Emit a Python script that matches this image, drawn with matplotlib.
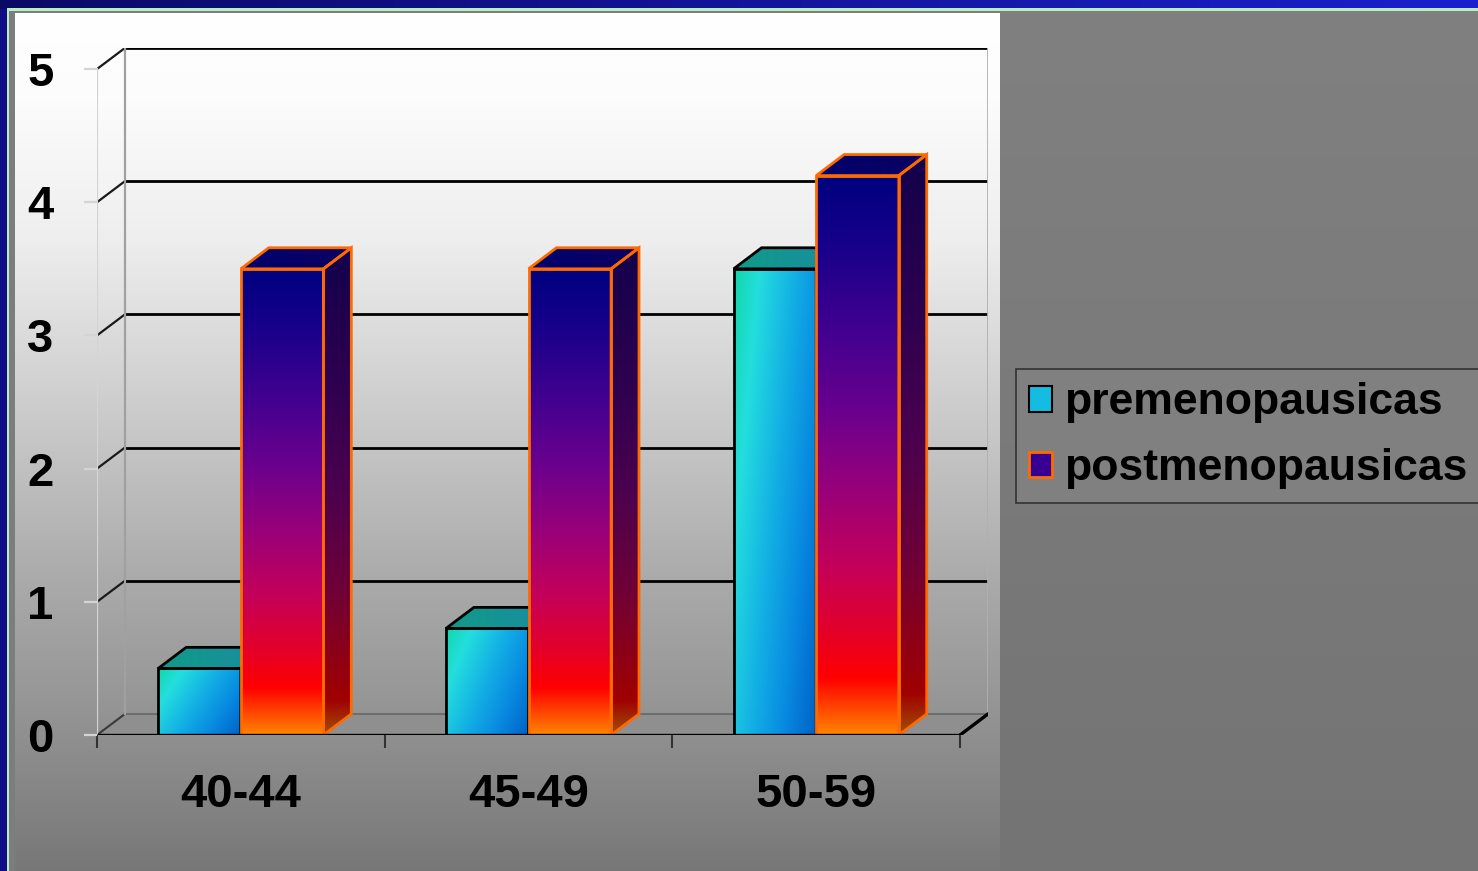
import numpy as np
import matplotlib
matplotlib.use("Agg")
import matplotlib.pyplot as plt
from matplotlib.patches import Polygon, Patch
from matplotlib.colors import LinearSegmentedColormap

plt.rcParams['font.family'] = ['Liberation Sans', 'DejaVu Sans']

# ---- data -------------------------------------------------------------
categories = ["40-44", "45-49", "50-59"]
series_names = ["premenopausicas", "postmenopausicas"]
pre_values = [0.5, 0.8, 3.5]
post_values = [3.5, 3.5, 4.2]
y_ticks = [0, 1, 2, 3, 4, 5]

# ---- figure & backdrop ------------------------------------------------
W, H = 1478, 871
fig = plt.figure(figsize=(W / 100, H / 100), dpi=100)

bg = fig.add_axes([0, 0, 1, 1])
bg.set_xlim(0, W)
bg.set_ylim(H, 0)
bg.axis('off')

img = np.zeros((H, W, 3))
# slide frame: blue band along top and left
top_band = np.linspace(0, 1, W)[None, :, None]
img[:, :, :] = np.array([14, 14, 130]) / 255
img[0:10, :, :] = (np.array([10, 10, 100]) * (1 - top_band) + np.array([26, 32, 205]) * top_band) / 255
# thin pale green rule
img[9:12, 7:, :] = np.array([185, 238, 195]) / 255
img[9:, 7:9, :] = np.array([185, 238, 195]) / 255
# chart panel (left) with vertical white->grey gradient
rows = np.arange(H)
ys = [14, 100, 240, 400, 570, 700, 871]
vs = [255, 252, 238, 206, 172, 150, 119]
panel = np.interp(rows, ys, vs) / 255
img[12:, 9:1000, :] = panel[12:, None, None]
img[12:, 9:15, :] = 125 / 255
img[12:14, 9:1000, :] = 125 / 255
# right panel plain grey
right = np.interp(rows, [12, 871], [128, 116]) / 255
img[12:, 1000:, :] = right[12:, None, None]
bg.imshow(img, extent=(0, W, H, 0), aspect='auto', interpolation='nearest')
bg.set_xlim(0, W)
bg.set_ylim(H, 0)

# ---- plot axes --------------------------------------------------------
DX, DY = 0.097, 0.158          # depth offset of the 3-D walls
BAR_W = 0.287
ax = fig.add_axes([97 / W, (H - 735) / H, 891 / W, 687 / H])
ax.set_facecolor('none')
for s in ax.spines.values():
    s.set_visible(False)

n = len(categories)
top = max(y_ticks)

# floor
ax.add_patch(Polygon([(0, 0), (n, 0), (n + DX, DY), (DX, DY)], closed=True,
                     fc='#8f8f8f', ec='none', zorder=1))
ax.plot([DX, n + DX], [DY, DY], color='#6a6a6a', lw=1.3, zorder=2)
ax.plot([0, DX], [0, DY], color='#3a3a3a', lw=1.5, zorder=2)

# gridlines on back wall + side wall
for v in y_ticks[1:]:
    ax.plot([DX, n + DX], [v + DY, v + DY], color='black', lw=2.0, zorder=2,
            solid_capstyle='butt')
    ax.plot([0, DX], [v, v + DY], color='#1a1a1a', lw=1.6, zorder=2)

# wall edges
ax.plot([DX, DX], [DY, top + DY], color='#a0a0a0', lw=1.6, zorder=2)
ax.plot([n + DX, n + DX], [DY, top + DY], color='#b0b0b0', lw=2.0, zorder=2)
ax.plot([0, 0], [0, top], color='#d4d4d4', lw=1.6, zorder=2)

# front edge of the floor
ax.plot([0, n], [0, 0], color='black', lw=2.4, zorder=60, solid_capstyle='butt')
ax.plot([n, n + DX], [0, DY], color='black', lw=2.4, zorder=3)

# colour ramps
pre_cmap = LinearSegmentedColormap.from_list(
    'pre', [(0.0, '#10d8a8'), (0.2, '#24dede'), (0.5, '#12ade4'),
            (0.75, '#0888e0'), (1.0, '#0062c4')])
post_cmap = LinearSegmentedColormap.from_list(
    'post', [(0.0, '#000080'), (0.12, '#16008a'), (0.3, '#480090'),
             (0.42, '#6a008e'), (0.56, '#98007a'), (0.7, '#c4005a'),
             (0.82, '#e40028'), (0.9, '#ff0000'), (1.0, '#ff8400')])
post_side_cmap = LinearSegmentedColormap.from_list(
    'post_side', [(0.0, '#12004c'), (0.3, '#300050'), (0.5, '#4c004e'),
                  (0.7, '#6e0038'), (0.85, '#900014'), (0.93, '#a00000'),
                  (1.0, '#a05000')])


def gradient_fill(verts, rgb, z):
    poly = Polygon(verts, closed=True, fc='none', ec='none', zorder=z)
    ax.add_patch(poly)
    xs, yv = zip(*verts)
    im = ax.imshow(rgb, extent=(min(xs), max(xs), min(yv), max(yv)),
                   origin='lower', aspect='auto', interpolation='bilinear',
                   zorder=z)
    im.set_clip_path(poly)


def draw_bar(x0, v, kind, z):
    x1 = x0 + BAR_W
    front = [(x0, 0), (x1, 0), (x1, v), (x0, v)]
    side = [(x1, 0), (x1 + DX, DY), (x1 + DX, v + DY), (x1, v)]
    lid = [(x0, v), (x1, v), (x1 + DX, v + DY), (x0 + DX, v + DY)]
    u = np.linspace(0, 1, 64)[None, :]
    h = np.linspace(0, 1, 256)[:, None]
    if kind == 'pre':
        s = 0.65 * u + 0.35 * (1 - h)
        front_rgb = pre_cmap(s)[..., :3]
        side_rgb = pre_cmap(s)[..., :3] * 0.6
        lid_rgb = (np.array([16, 154, 136]) * (1 - u[..., None]) +
                   np.array([26, 140, 162]) * u[..., None]) / 255
        lid_rgb = np.repeat(lid_rgb, 8, axis=0)
        edge = 'black'
    else:
        front_rgb = post_cmap(np.repeat(1 - h, 64, axis=1))[..., :3]
        side_rgb = post_side_cmap(np.repeat(1 - h, 64, axis=1))[..., :3]
        lid_rgb = (np.array([0, 0, 110]) * (1 - u[..., None]) +
                   np.array([12, 0, 96]) * u[..., None]) / 255
        lid_rgb = np.repeat(lid_rgb, 8, axis=0)
        edge = '#ff6a00'
    gradient_fill(side, side_rgb, z)
    gradient_fill(lid, lid_rgb, z + 0.1)
    gradient_fill(front, front_rgb, z + 0.2)
    for verts in (side, lid, front):
        ax.add_patch(Polygon(verts, closed=True, fill=False, ec=edge, lw=2.0,
                             joinstyle='miter', zorder=z + 0.3))


for i in range(n):
    draw_bar(i + 0.5 - BAR_W, pre_values[i], 'pre', 10 + 10 * i)
    draw_bar(i + 0.5, post_values[i], 'post', 15 + 10 * i)

# ---- ticks & labels ----------------------------------------------------
ax.set_xlim(0, n + DX)
ax.set_ylim(0, top + DY)
ax.set_yticks(y_ticks)
ax.set_yticklabels([str(t) for t in y_ticks], fontsize=34, fontweight='bold')
ax.tick_params(axis='y', length=9.4, width=1.6, color='#d4d4d4', pad=22)
ax.set_xticks([i + 0.5 for i in range(n)])
ax.set_xticklabels(categories, fontsize=34, fontweight='bold')
ax.set_xticks(range(n + 1), minor=True)
ax.tick_params(axis='x', which='major', length=0, pad=27)
ax.tick_params(axis='x', which='minor', length=9.4, width=1.5, color='#333333')

# ---- legend -------------------------------------------------------------
handles = [Patch(facecolor='#14bce2', edgecolor='black', lw=1.5),
           Patch(facecolor='#380092', edgecolor='#ff6a00', lw=2)]
leg = fig.legend(handles, series_names, loc='upper left',
                 bbox_to_anchor=(1016 / W, 1 - 369 / H),
                 prop={'size': 32, 'weight': 'bold'}, frameon=True,
                 fancybox=False, facecolor='#808080', edgecolor='#333333',
                 framealpha=1, handlelength=0.52, handleheight=0.52,
                 handletextpad=0.25, borderpad=0.3, labelspacing=0.56,
                 borderaxespad=0)
leg.get_frame().set_linewidth(1.2)

fig.savefig('out.png', dpi=100)
